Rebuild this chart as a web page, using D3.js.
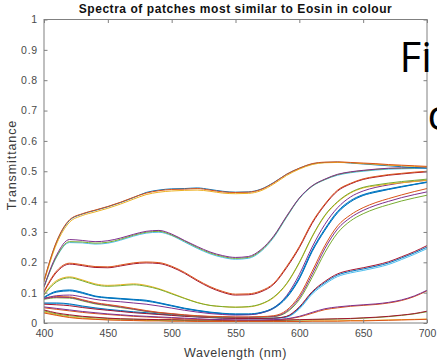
<!DOCTYPE html>
<html><head><meta charset="utf-8">
<script src="https://cdn.jsdelivr.net/npm/d3@7"></script>
<style>
html,body{margin:0;padding:0;background:#fff;}
svg{display:block;}
</style></head>
<body>
<script>
const wavelengths = d3.range(400, 701, 10);
const xTicks = [400,450,500,550,600,650,700];
const yTicks = [0,0.1,0.2,0.3,0.4,0.5,0.6,0.7,0.8,0.9,1];
const yTickLabels = ["0","0.1","0.2","0.3","0.4","0.5","0.6","0.7","0.8","0.9","1"];

const A1 = [0.14,0.27,0.34,0.36,0.372,0.384,0.398,0.414,0.428,0.436,0.44,0.441,0.443,0.438,0.432,0.43,0.431,0.44,0.462,0.49,0.51,0.525,0.53,0.531,0.529,0.527,0.525,0.522,0.52,0.518,0.516];
const A2 = [0.135,0.262,0.332,0.354,0.366,0.378,0.392,0.408,0.423,0.431,0.435,0.437,0.438,0.434,0.428,0.426,0.427,0.436,0.458,0.486,0.507,0.522,0.528,0.529,0.528,0.525,0.523,0.52,0.518,0.516,0.514];
const A3 = [0.138,0.268,0.338,0.359,0.371,0.383,0.397,0.413,0.43,0.438,0.442,0.443,0.445,0.44,0.434,0.431,0.432,0.441,0.463,0.49,0.51,0.524,0.529,0.53,0.527,0.524,0.521,0.518,0.515,0.512,0.51];
const B1 = [0.12,0.225,0.275,0.272,0.268,0.271,0.28,0.292,0.302,0.305,0.293,0.272,0.252,0.234,0.222,0.216,0.219,0.242,0.287,0.352,0.412,0.452,0.474,0.49,0.498,0.503,0.507,0.51,0.511,0.512,0.512];
const B2 = [0.118,0.218,0.265,0.264,0.26,0.263,0.273,0.286,0.296,0.299,0.288,0.267,0.246,0.228,0.216,0.21,0.213,0.236,0.282,0.348,0.41,0.45,0.472,0.487,0.495,0.5,0.504,0.507,0.508,0.509,0.51];
const B3 = [0.119,0.22,0.268,0.267,0.263,0.266,0.276,0.289,0.299,0.302,0.29,0.27,0.249,0.231,0.219,0.213,0.216,0.239,0.285,0.35,0.411,0.451,0.473,0.489,0.497,0.502,0.506,0.509,0.51,0.511,0.513];
const C1 = [0.105,0.172,0.197,0.192,0.186,0.185,0.191,0.198,0.201,0.199,0.187,0.167,0.142,0.12,0.104,0.095,0.096,0.106,0.131,0.186,0.252,0.332,0.392,0.438,0.46,0.475,0.483,0.489,0.493,0.497,0.5];
const C2 = [0.102,0.168,0.194,0.189,0.183,0.182,0.188,0.195,0.198,0.196,0.184,0.164,0.139,0.117,0.101,0.092,0.093,0.103,0.128,0.182,0.248,0.328,0.389,0.435,0.458,0.473,0.481,0.487,0.491,0.495,0.498];
const D1 = [0.092,0.136,0.149,0.139,0.126,0.121,0.123,0.126,0.121,0.111,0.096,0.081,0.067,0.058,0.054,0.052,0.054,0.063,0.086,0.13,0.2,0.285,0.355,0.4,0.43,0.447,0.455,0.461,0.466,0.47,0.474];
const D2 = [0.095,0.14,0.152,0.142,0.129,0.124,0.126,0.129,0.124,0.113,0.098,0.082,0.068,0.058,0.054,0.052,0.053,0.062,0.084,0.128,0.198,0.283,0.353,0.398,0.428,0.445,0.452,0.458,0.462,0.466,0.47];
const E1 = [0.085,0.105,0.109,0.101,0.089,0.084,0.081,0.078,0.075,0.067,0.058,0.049,0.042,0.036,0.032,0.03,0.03,0.035,0.051,0.087,0.15,0.24,0.31,0.368,0.403,0.423,0.434,0.442,0.45,0.457,0.465];
const E2 = [0.083,0.102,0.106,0.098,0.087,0.082,0.079,0.076,0.072,0.065,0.056,0.047,0.04,0.034,0.03,0.028,0.028,0.033,0.048,0.083,0.145,0.235,0.305,0.363,0.399,0.42,0.431,0.44,0.448,0.456,0.463];
const E3 = [0.084,0.103,0.107,0.1,0.088,0.083,0.08,0.077,0.074,0.066,0.057,0.048,0.041,0.035,0.031,0.029,0.029,0.034,0.05,0.085,0.147,0.237,0.307,0.365,0.4,0.421,0.432,0.441,0.449,0.457,0.464];
const E4 = [0.08,0.09,0.092,0.086,0.078,0.073,0.07,0.066,0.062,0.056,0.049,0.042,0.036,0.031,0.028,0.026,0.027,0.033,0.05,0.09,0.16,0.25,0.325,0.38,0.415,0.435,0.447,0.455,0.462,0.467,0.47];
const F1 = [0.082,0.087,0.086,0.077,0.067,0.061,0.055,0.048,0.041,0.035,0.031,0.027,0.024,0.022,0.021,0.02,0.02,0.021,0.024,0.042,0.09,0.17,0.255,0.32,0.356,0.38,0.397,0.41,0.422,0.433,0.443];
const F2 = [0.08,0.085,0.084,0.075,0.065,0.059,0.053,0.046,0.039,0.034,0.03,0.026,0.023,0.021,0.02,0.019,0.019,0.02,0.022,0.038,0.083,0.16,0.245,0.31,0.347,0.371,0.388,0.401,0.413,0.423,0.432];
const F3 = [0.078,0.083,0.082,0.073,0.063,0.057,0.051,0.045,0.038,0.033,0.029,0.025,0.022,0.02,0.019,0.018,0.018,0.019,0.021,0.035,0.077,0.15,0.232,0.297,0.336,0.36,0.377,0.39,0.402,0.412,0.421];
const G1 = [0.066,0.066,0.063,0.056,0.05,0.045,0.041,0.037,0.034,0.03,0.027,0.024,0.021,0.019,0.017,0.016,0.015,0.015,0.016,0.021,0.05,0.1,0.133,0.158,0.17,0.178,0.187,0.198,0.214,0.231,0.25];
const G2 = [0.064,0.064,0.061,0.054,0.048,0.043,0.039,0.035,0.032,0.029,0.026,0.023,0.02,0.018,0.016,0.015,0.014,0.014,0.015,0.019,0.046,0.095,0.128,0.153,0.165,0.173,0.182,0.193,0.209,0.226,0.245];
const G3 = [0.062,0.06,0.057,0.051,0.046,0.042,0.038,0.034,0.031,0.028,0.025,0.022,0.02,0.018,0.016,0.015,0.015,0.015,0.016,0.022,0.053,0.103,0.137,0.162,0.174,0.182,0.191,0.202,0.218,0.235,0.255];
const H1 = [0.053,0.048,0.043,0.038,0.034,0.03,0.027,0.024,0.022,0.02,0.018,0.016,0.014,0.012,0.011,0.01,0.01,0.01,0.011,0.014,0.022,0.035,0.047,0.053,0.057,0.06,0.063,0.068,0.076,0.089,0.108];
const H2 = [0.05,0.045,0.04,0.035,0.031,0.028,0.025,0.022,0.02,0.018,0.016,0.014,0.012,0.011,0.01,0.009,0.009,0.009,0.01,0.013,0.02,0.032,0.044,0.05,0.055,0.058,0.061,0.066,0.074,0.087,0.106];
const I1 = [0.043,0.033,0.027,0.022,0.019,0.016,0.014,0.013,0.012,0.011,0.011,0.01,0.01,0.01,0.009,0.009,0.009,0.009,0.009,0.01,0.011,0.012,0.013,0.014,0.015,0.017,0.019,0.022,0.026,0.031,0.039];
const I2 = [0.04,0.03,0.024,0.02,0.017,0.015,0.013,0.012,0.011,0.01,0.01,0.009,0.009,0.009,0.008,0.008,0.008,0.008,0.008,0.009,0.01,0.011,0.012,0.013,0.014,0.016,0.018,0.021,0.025,0.03,0.037];
const J1 = [0.036,0.027,0.02,0.016,0.013,0.011,0.01,0.009,0.008,0.008,0.007,0.007,0.006,0.006,0.006,0.006,0.006,0.006,0.006,0.006,0.006,0.007,0.007,0.007,0.008,0.008,0.009,0.01,0.011,0.012,0.013];
const J2 = [0.033,0.025,0.018,0.014,0.012,0.01,0.009,0.008,0.007,0.007,0.006,0.006,0.005,0.005,0.005,0.005,0.005,0.005,0.005,0.005,0.005,0.006,0.006,0.006,0.007,0.007,0.008,0.009,0.01,0.011,0.012];

const seriesList = [J1,J2,I2,I1,H2,H1,G2,G1,G3,F3,F2,F1,E3,E2,E4,E1,D2,D1,C2,C1,B2,B3,B1,A3,A2,A1];
const seriesColors = ["#EDB120","#D95319","#77AC30","#A2142F","#D95319","#7E2F8E","#4DBEEE","#0072BD","#A2142F","#77AC30","#7E2F8E","#D95319","#4DBEEE","#0072BD","#7E2F8E","#0072BD","#EDB120","#77AC30","#A2142F","#D95319","#4DBEEE","#77AC30","#7E2F8E","#0072BD","#EDB120","#D95319"];

const W = 437, H = 361;
const L = 44, R = 427, T = 19.5, B = 323;
const svg = d3.select("body").append("svg").attr("width", W).attr("height", H);
const x = d3.scaleLinear().domain([400,700]).range([L,R]);
const y = d3.scaleLinear().domain([0,1]).range([B,T]);

svg.append("defs").append("clipPath").attr("id","clip")
  .append("rect").attr("x",L).attr("y",T).attr("width",R-L).attr("height",B-T);

const line = d3.line().x((d,i)=>x(wavelengths[i])).y(d=>y(d)).curve(d3.curveMonotoneX);
const g = svg.append("g").attr("clip-path","url(#clip)");
seriesList.forEach((s,i)=>{
  g.append("path").attr("d", line(s)).attr("fill","none")
   .attr("stroke", seriesColors[i]).attr("stroke-width",1);
});

const axisColor = "#808080";
const tickFont = "'Liberation Sans', Arial, sans-serif";
svg.append("rect").attr("x",L).attr("y",T).attr("width",R-L).attr("height",B-T)
  .attr("fill","none").attr("stroke",axisColor).attr("stroke-width",1);

const xb = svg.append("g").attr("transform",`translate(0,${B})`)
  .call(d3.axisBottom(x).tickValues(xTicks).tickSize(-3.5).tickPadding(7).tickFormat(d3.format("d")));
const xt = svg.append("g").attr("transform",`translate(0,${T})`)
  .call(d3.axisTop(x).tickValues(xTicks).tickSize(-3.5).tickFormat(""));
const yl = svg.append("g").attr("transform",`translate(${L},0)`)
  .call(d3.axisLeft(y).tickValues(yTicks).tickSize(-3.5).tickPadding(6).tickFormat((d,i)=>yTickLabels[i]));
const yr = svg.append("g").attr("transform",`translate(${R},0)`)
  .call(d3.axisRight(y).tickValues(yTicks).tickSize(-3.5).tickFormat(""));
[xb,xt,yl,yr].forEach(a=>{
  a.select(".domain").remove();
  a.selectAll(".tick line").attr("stroke",axisColor);
  a.selectAll(".tick text").attr("fill","#4a4a4a").style("font-family",tickFont).style("font-size","10.5px");
});
yl.selectAll(".tick text").style("letter-spacing","0.8px");

svg.append("text").attr("x",(L+R)/2).attr("y",13).attr("text-anchor","middle")
  .style("font-family",tickFont).style("font-weight","bold").style("font-size","12px")
  .style("letter-spacing","0.55px").attr("fill","#111")
  .text("Spectra of patches most similar to Eosin in colour");
svg.append("text").attr("x",(L+R)/2).attr("y",357).attr("text-anchor","middle")
  .style("font-family",tickFont).style("font-size","12.5px").style("letter-spacing","0.55px").attr("fill","#3a3a3a")
  .text("Wavelength (nm)");
svg.append("text").attr("transform",`translate(16,${165}) rotate(-90)`).attr("text-anchor","middle")
  .style("font-family",tickFont).style("font-size","12.5px").style("letter-spacing","0.9px").attr("fill","#3a3a3a")
  .text("Transmittance");

// overlaid slide text (cut by the window edge as in the reference)
svg.append("text").attr("x",399.5).attr("y",72).style("font-family","'Open Sans', sans-serif")
  .style("font-size","42px").attr("fill","#000").text("Fi");
svg.append("text").attr("x",427.5).attr("y",130).style("font-family","'Open Sans', sans-serif")
  .style("font-size","42px").attr("fill","#000").text("c");
</script>
</body></html>
